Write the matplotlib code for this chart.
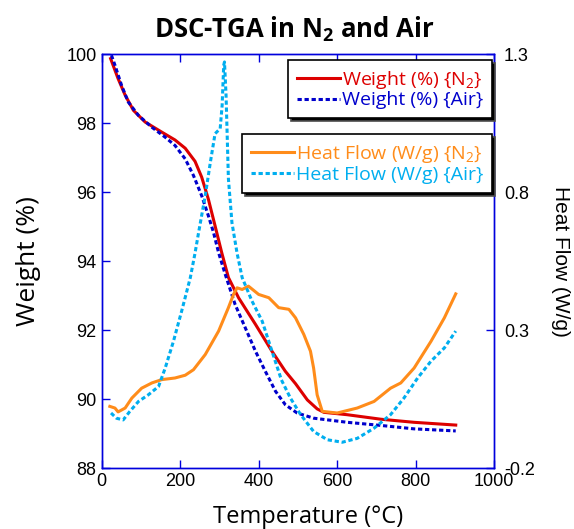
import numpy as np
import matplotlib
matplotlib.use('Agg')
import matplotlib.pyplot as plt

plt.rcParams['mathtext.default'] = 'regular'

# Weight (%) in N2
t_w_n2 = [23, 42, 60, 81, 111, 153, 187, 213, 238, 255, 272, 289, 306, 323, 349,
          392, 434, 468, 494, 524, 549, 566, 626, 711, 796, 902]
w_n2 = [99.88, 99.30, 98.82, 98.38, 98.04, 97.75, 97.52, 97.28, 96.90, 96.44, 95.80,
        95.03, 94.25, 93.53, 92.94, 92.17, 91.39, 90.81, 90.45, 89.98, 89.72, 89.62,
        89.55, 89.42, 89.33, 89.25]

# Weight (%) in Air
t_w_air = [25, 34, 51, 68, 94, 128, 162, 187, 213, 234, 255, 272, 285, 298, 315, 340,
           366, 392, 417, 443, 468, 498, 540, 626, 711, 796, 902]
w_air = [99.98, 99.69, 99.10, 98.62, 98.23, 97.89, 97.60, 97.36, 96.97, 96.49, 95.90,
         95.32, 94.84, 94.25, 93.62, 92.75, 92.07, 91.39, 90.81, 90.23, 89.84, 89.60,
         89.45, 89.33, 89.24, 89.14, 89.08]

# Heat flow (W/g) in N2
t_hf_n2 = [21, 34, 42, 60, 77, 102, 128, 153, 187, 213, 234, 264, 298, 323, 336, 345,
           358, 374, 400, 426, 451, 477, 494, 515, 532, 540, 549, 562, 600, 651, 694,
           736, 762, 796, 839, 873, 902]
hf_n2 = [0.024, 0.018, 0.004, 0.018, 0.054, 0.090, 0.109, 0.121, 0.127, 0.137, 0.157,
         0.212, 0.297, 0.382, 0.430, 0.454, 0.448, 0.460, 0.430, 0.418, 0.382, 0.376,
         0.345, 0.285, 0.224, 0.163, 0.066, 0.006, 0.000, 0.018, 0.042, 0.090, 0.109,
         0.163, 0.260, 0.345, 0.432]

# Heat flow (W/g) in Air
t_hf_air = [24, 38, 55, 72, 94, 119, 145, 162, 183, 204, 226, 238, 247, 264, 277, 289,
            302, 307, 311, 313, 317, 323, 332, 345, 358, 383, 409, 434, 458, 481, 507,
            540, 575, 613, 651, 694, 736, 770, 805, 839, 873, 902]
hf_air = [0.000, -0.019, -0.025, 0.006, 0.042, 0.066, 0.096, 0.163, 0.260, 0.370, 0.491,
          0.580, 0.654, 0.788, 0.909, 1.013, 1.031, 1.115, 1.261, 1.273, 1.152, 0.849,
          0.690, 0.580, 0.491, 0.406, 0.333, 0.224, 0.120, 0.054, -0.006, -0.067,
          -0.097, -0.106, -0.092, -0.055, -0.006, 0.054, 0.127, 0.188, 0.236, 0.297]

x_ticks = [0, 200, 400, 600, 800, 1000]
w_ticks = [88, 90, 92, 94, 96, 98, 100]
hf_ticks = [-0.2, 0.3, 0.8, 1.3]

c_red = '#dd0000'
c_blue = '#0000cc'
c_orange = '#ff8c1a'
c_cyan = '#00aeef'
c_spine = '#0000dd'

lab_font = ['Open Sans', 'DejaVu Sans']
tick_font = 'Liberation Sans'

fig = plt.figure(figsize=(5.74, 5.29), dpi=100)
ax = fig.add_axes([0.177, 0.115, 0.684, 0.782])
ax2 = ax.twinx()

ax.plot(t_w_n2, w_n2, '-', color=c_red, linewidth=2.2, label='Weight (%) {N$_2$}')
ax.plot(t_w_air, w_air, color=c_blue, linewidth=2.2, linestyle=(0, (1.4, 0.9)),
        label='Weight (%) {Air}')
ax2.plot(t_hf_n2, hf_n2, '-', color=c_orange, linewidth=2.2,
         label='Heat Flow (W/g) {N$_2$}')
ax2.plot(t_hf_air, hf_air, color=c_cyan, linewidth=2.2, linestyle=(0, (1.4, 0.9)),
         label='Heat Flow (W/g) {Air}')

ax.set_xlim(0, 1000)
ax.set_ylim(88, 100)
ax2.set_ylim(-0.2, 1.3)
ax.set_xticks(x_ticks)
ax.set_yticks(w_ticks)
ax2.set_yticks(hf_ticks)
ax2.set_yticklabels([str(v) for v in hf_ticks])

for a in (ax, ax2):
    for s in a.spines.values():
        s.set_color(c_spine)
        s.set_linewidth(1.0)
ax.tick_params(axis='both', direction='in', color=c_spine, length=6, width=1,
               labelsize=13, top=True)
ax2.tick_params(axis='y', direction='in', color=c_spine, length=6, width=1,
                labelsize=13, pad=7)
for lbl in ax.get_xticklabels() + ax.get_yticklabels() + ax2.get_yticklabels():
    lbl.set_fontfamily(tick_font)

ax.set_xlabel('Temperature (°C)', fontsize=17, family=lab_font, labelpad=11)
ax.xaxis.label.set_x(0.525)
ax.set_ylabel('Weight (%)', fontsize=19, family=lab_font, labelpad=18)
ax2.set_ylabel('Heat Flow (W/g)', fontsize=15, family=tick_font, rotation=270,
               labelpad=25)
fig.suptitle('DSC-TGA in N$_2$ and Air', fontsize=18.5, fontweight='bold',
             family=lab_font, x=0.513, y=0.972, va='top')

shadow = {'facecolor': 'black', 'alpha': 1}
h1, l1 = ax.get_legend_handles_labels()
h2, l2 = ax2.get_legend_handles_labels()
leg1 = ax2.legend(h1, l1, loc='upper right', bbox_to_anchor=(0.857, 0.887),
                  bbox_transform=fig.transFigure, borderaxespad=0, fancybox=False,
                  shadow=shadow, framealpha=1, edgecolor='black', labelcolor='linecolor',
                  prop={'family': lab_font, 'size': 14}, handlelength=2.2,
                  handletextpad=0.1, labelspacing=0.05, borderpad=0.45)
leg1.get_frame().set_linewidth(1.2)
ax2.add_artist(leg1)
leg2 = ax2.legend(h2, l2, loc='upper right', bbox_to_anchor=(0.857, 0.746),
                  bbox_transform=fig.transFigure, borderaxespad=0, fancybox=False,
                  shadow=shadow, framealpha=1, edgecolor='black', labelcolor='linecolor',
                  prop={'family': lab_font, 'size': 14}, handlelength=2.2,
                  handletextpad=0.1, labelspacing=0.05, borderpad=0.45)
leg2.get_frame().set_linewidth(1.2)

fig.savefig('out.png', dpi=100)
